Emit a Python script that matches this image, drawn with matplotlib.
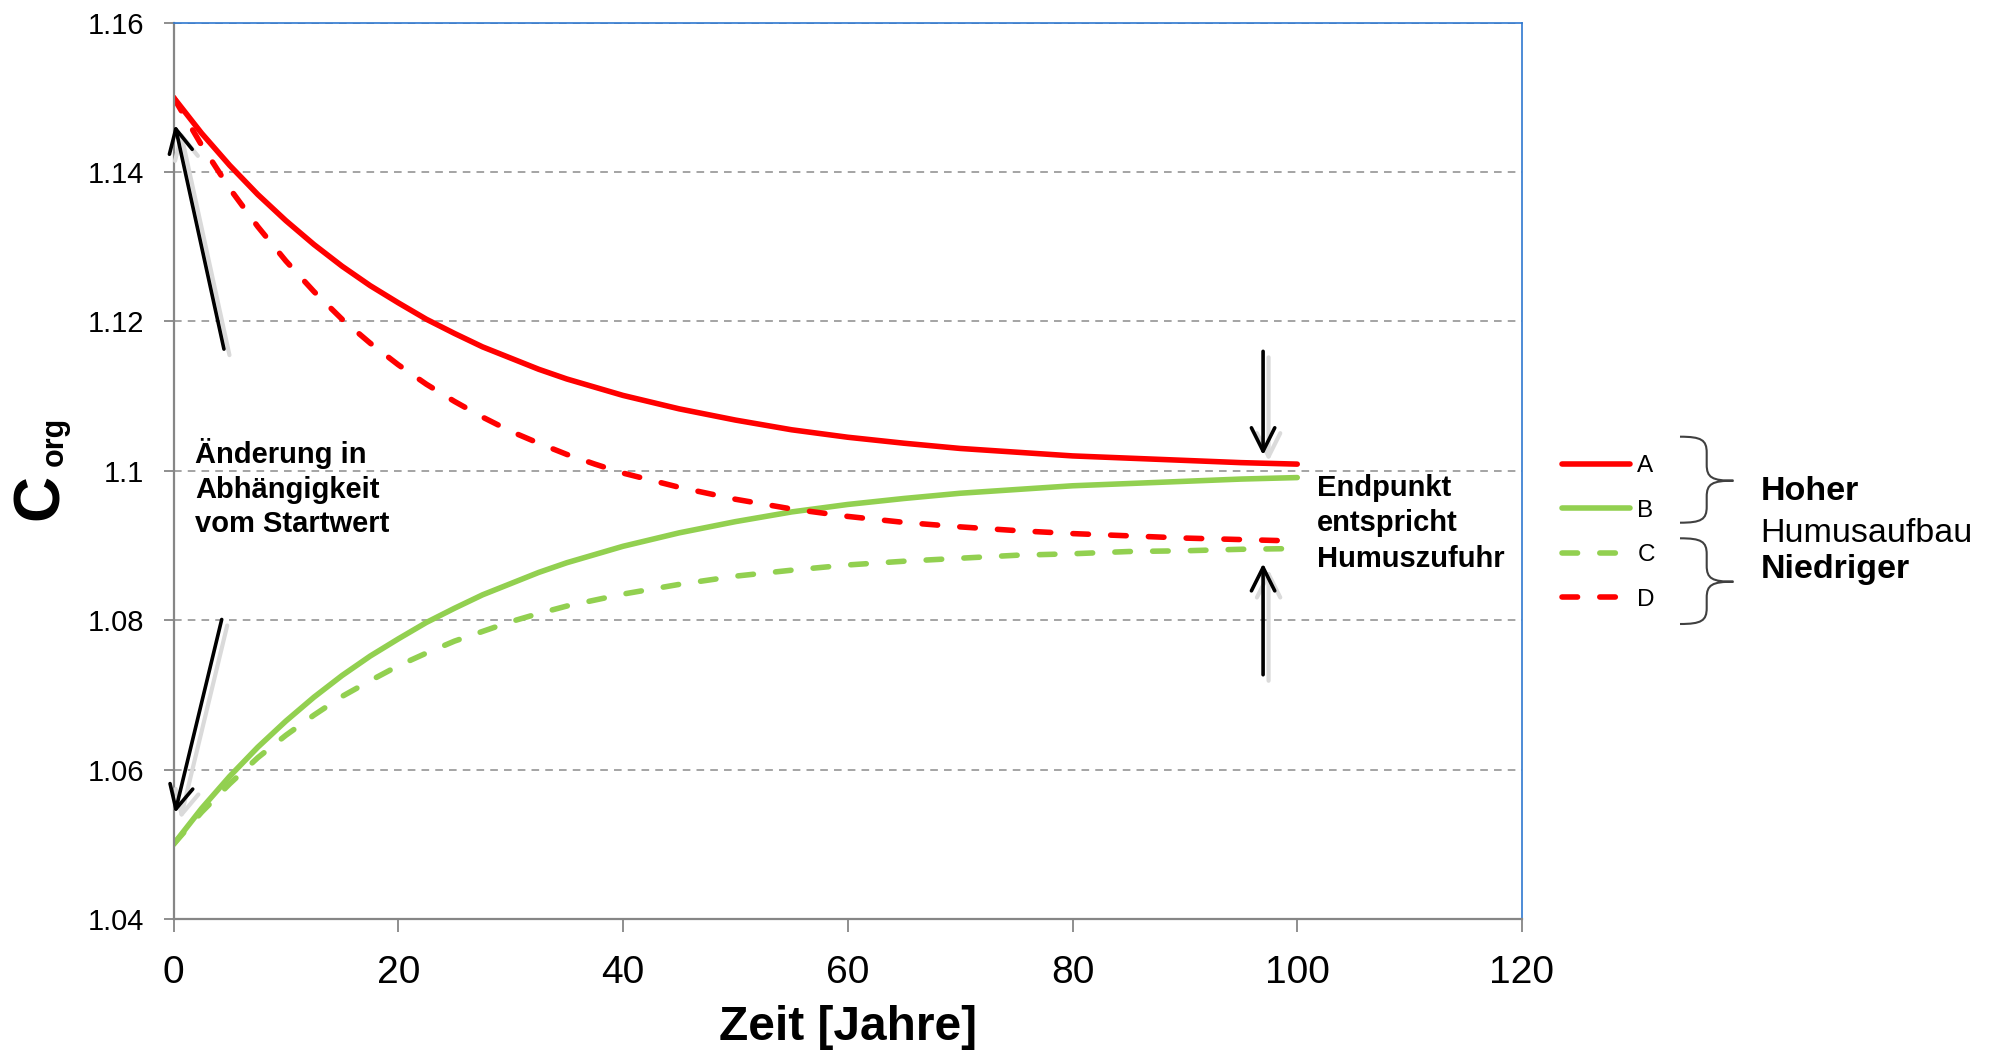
import matplotlib
matplotlib.use('Agg')
import matplotlib.pyplot as plt
from matplotlib.path import Path
from matplotlib.patches import PathPatch
from matplotlib import transforms

plt.rcParams['font.family'] = ['Liberation Sans', 'DejaVu Sans']

# values (every 2.5 years up to 40, then every 5 years)
years = [0, 2.5, 5, 7.5, 10, 12.5, 15, 17.5, 20, 22.5, 25, 27.5, 30, 32.5, 35, 37.5, 40,
         45, 50, 55, 60, 65, 70, 75, 80, 85, 90, 95, 100]
corg_a = [1.1500, 1.1452, 1.1409, 1.1370, 1.1335, 1.1303, 1.1274, 1.1248, 1.1225, 1.1203,
          1.1184, 1.1166, 1.1151, 1.1136, 1.1123, 1.1112, 1.1101,
          1.1083, 1.1068, 1.1055, 1.1045, 1.1037, 1.1030, 1.1025, 1.1020, 1.1017, 1.1014, 1.1011, 1.1009]
corg_b = [1.0500, 1.0548, 1.0591, 1.0630, 1.0665, 1.0697, 1.0726, 1.0752, 1.0775, 1.0797,
          1.0816, 1.0834, 1.0849, 1.0864, 1.0877, 1.0888, 1.0899,
          1.0917, 1.0932, 1.0945, 1.0955, 1.0963, 1.0970, 1.0975, 1.0980, 1.0983, 1.0986, 1.0989, 1.0991]
corg_c = [1.0500, 1.0543, 1.0581, 1.0616, 1.0646, 1.0673, 1.0698, 1.0719, 1.0739, 1.0756,
          1.0772, 1.0785, 1.0798, 1.0809, 1.0819, 1.0827, 1.0835,
          1.0848, 1.0859, 1.0867, 1.0874, 1.0879, 1.0883, 1.0887, 1.0889, 1.0892, 1.0893, 1.0895, 1.0896]
corg_d = [1.1500, 1.1436, 1.1378, 1.1327, 1.1281, 1.1240, 1.1203, 1.1171, 1.1142, 1.1116,
          1.1093, 1.1072, 1.1053, 1.1037, 1.1022, 1.1009, 1.0997,
          1.0978, 1.0962, 1.0949, 1.0939, 1.0931, 1.0925, 1.0920, 1.0916, 1.0913, 1.0910, 1.0908, 1.0906]
series_names = ['A', 'B', 'C', 'D']

xticks = [0, 20, 40, 60, 80, 100, 120]
yticks = [1.04, 1.06, 1.08, 1.10, 1.12, 1.14, 1.16]
ytick_labels = ['1.04', '1.06', '1.08', '1.1', '1.12', '1.14', '1.16']

RED = '#FF0000'
GREEN = '#92D050'
GRAY = '#868686'
BLUE = '#2F78D0'

W, H = 1995, 1056
fig = plt.figure(figsize=(W / 100, H / 100), dpi=100)
ax = fig.add_axes([173.5 / W, 1 - 919 / H, (1522 - 173.5) / W, (919 - 22.7) / H])


def fx(x):
    return x / W


def fy(y):
    return 1 - y / H


lw = 4
dash = (2.8, 4.0)
ax.plot(years, corg_a, color=RED, lw=lw, solid_capstyle='round', label=series_names[0])
ax.plot(years, corg_b, color=GREEN, lw=lw, solid_capstyle='round', label=series_names[1])
ax.plot(years, corg_c, color=GREEN, lw=lw, dashes=dash, dash_capstyle='round', label=series_names[2])
ax.plot(years, corg_d, color=RED, lw=lw, dashes=dash, dash_capstyle='round', label=series_names[3])

ax.set_xlim(0, 120)
ax.set_ylim(1.04, 1.16)
ax.set_xticks(xticks)
ax.set_yticks(yticks)
ax.set_yticklabels(ytick_labels)
ax.yaxis.grid(True, color='#8C8C8C', linestyle=(0, (5, 4)), linewidth=1.1)
ax.set_axisbelow(True)

for s in ['left', 'bottom']:
    ax.spines[s].set_color(GRAY)
    ax.spines[s].set_linewidth(1.6)
for s in ['top', 'right']:
    ax.spines[s].set_color(BLUE)
    ax.spines[s].set_linewidth(1.2)
ax.tick_params(axis='y', direction='out', length=7, width=1.3, color=GRAY, labelsize=21, pad=14)
ax.tick_params(axis='x', direction='out', length=9, width=1.3, color=GRAY, labelsize=28, pad=17)

# axis titles
fig.text(fx(847.75), fy(1028), 'Zeit [Jahre]', fontsize=34.5, fontweight='bold', ha='center', va='center')
fig.text(fx(41), fy(497), 'C', fontsize=46, fontweight='bold', rotation=90, ha='center', va='center')
fig.text(fx(55), fy(441), 'org', fontsize=22, fontweight='bold', rotation=90, ha='center', va='center')

# annotation arrows (tail -> head) with a light shadow
arrows = [((4.49, 1.1163), (0.13, 1.1463)),
          ((4.29, 1.0801), (0.13, 1.0542)),
          ((96.96, 1.1160), (96.96, 1.1021)),
          ((96.96, 1.0727), (96.96, 1.0876))]
shadow = transforms.offset_copy(ax.transData, fig=fig, x=5.5, y=-6, units='dots')
for tail, head in arrows:
    ax.annotate('', xy=head, xytext=tail, xycoords=shadow, textcoords=shadow,
                arrowprops=dict(arrowstyle='->,head_length=0.4,head_width=0.2', mutation_scale=42,
                                color='#DADADA', lw=3, shrinkA=0, shrinkB=0))
    ax.annotate('', xy=head, xytext=tail,
                arrowprops=dict(arrowstyle='->,head_length=0.4,head_width=0.2', mutation_scale=42,
                                color='black', lw=2.6, shrinkA=0, shrinkB=0))

for i, line in enumerate(['Änderung in', 'Abhängigkeit', 'vom Startwert']):
    fig.text(fx(195), fy(463.3 + 34.4 * i), line, fontsize=21, fontweight='bold', va='baseline')
for i, line in enumerate(['Endpunkt', 'entspricht', 'Humuszufuhr']):
    fig.text(fx(1317), fy(495.7 + 35.5 * i), line, fontsize=21, fontweight='bold', va='baseline')

# legend outside the plot
ax.legend(loc='center left', bbox_to_anchor=(fx(1562), fy(533)), bbox_transform=fig.transFigure,
          frameon=False, borderpad=0, borderaxespad=0, fontsize=17.5, handlelength=2.8,
          handletextpad=0.3, labelspacing=0.92)


def brace(x0, top, mid, bot, w=26.7, r=16):
    verts = [(x0, top),
             (x0 + 0.8 * w, top), (x0 + w, top + 0.2 * r), (x0 + w, top + r),
             (x0 + w, mid - r),
             (x0 + w, mid - 0.2 * r), (x0 + 1.2 * w, mid), (x0 + 2 * w, mid),
             (x0 + 1.2 * w, mid), (x0 + w, mid + 0.2 * r), (x0 + w, mid + r),
             (x0 + w, bot - r),
             (x0 + w, bot - 0.2 * r), (x0 + 0.8 * w, bot), (x0, bot)]
    codes = [Path.MOVETO, Path.CURVE4, Path.CURVE4, Path.CURVE4, Path.LINETO,
             Path.CURVE4, Path.CURVE4, Path.CURVE4, Path.CURVE4, Path.CURVE4, Path.CURVE4,
             Path.LINETO, Path.CURVE4, Path.CURVE4, Path.CURVE4]
    verts = [(fx(x), fy(y)) for x, y in verts]
    fig.patches.append(PathPatch(Path(verts, codes), transform=fig.transFigure,
                                 fill=False, edgecolor='#404040', lw=1.5))


brace(1680, 436.7, 480.7, 522.7)
brace(1680, 538.3, 581.7, 624)

fig.text(fx(1760.7), fy(500), 'Hoher', fontsize=24.5, fontweight='bold', va='baseline')
fig.text(fx(1760.7), fy(541.7), 'Humusaufbau', fontsize=24.5, va='baseline')
fig.text(fx(1760.7), fy(578.3), 'Niedriger', fontsize=24.5, fontweight='bold', va='baseline')

fig.savefig('out.png', dpi=100)
